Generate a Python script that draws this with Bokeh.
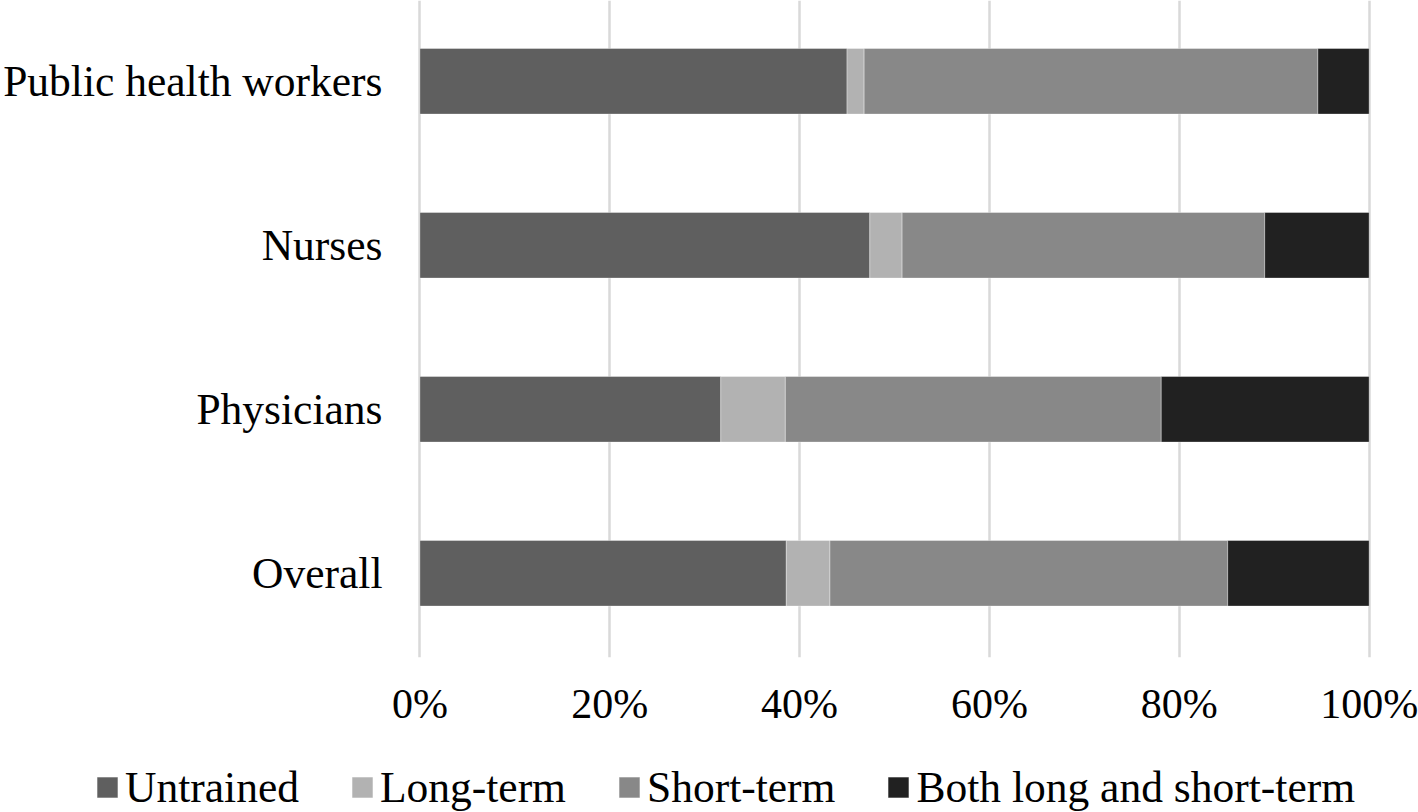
from bokeh.plotting import figure
from bokeh.models import FixedTicker, Legend, ColumnDataSource
from bokeh.layouts import column
from bokeh.embed import file_html
from bokeh.resources import INLINE

categories = ["Public health workers", "Nurses", "Physicians", "Overall"]
untrained = [45.0, 47.4, 31.7, 38.6]
long_term = [1.8, 3.4, 6.8, 4.6]
short_term = [47.8, 38.2, 39.6, 41.9]
both = [5.4, 11.0, 21.9, 14.9]
series_names = ["Untrained", "Long-term", "Short-term", "Both long and short-term"]
x_ticks = [0, 20, 40, 60, 80, 100]
x_tick_labels = ["0%", "20%", "40%", "60%", "80%", "100%"]

colors = ["#5f5f5f", "#b2b2b2", "#888888", "#212121"]
FONT = "Liberation Serif"
stack_keys = ["untrained", "long_term", "short_term", "both"]

ypos = list(range(len(categories) - 1, -1, -1))
src = ColumnDataSource(dict(y=ypos, untrained=untrained, long_term=long_term,
                            short_term=short_term, both=both))

p = figure(width=1418, height=732, output_backend="svg", toolbar_location=None,
           x_range=(-0.25, 100.25), y_range=(-0.5134, 3.4927),
           min_border_left=414, min_border_right=47, min_border_top=0,
           min_border_bottom=75)
p.frame_align = False

p.hbar_stack(stack_keys, y="y", height=0.40, color=colors, source=src,
             line_color="white", line_alpha=0.35, line_width=1)

p.outline_line_color = None
p.ygrid.grid_line_color = None
p.xgrid.grid_line_color = "#d9d9d9"
p.xgrid.grid_line_width = 2.5
p.xgrid.ticker = FixedTicker(ticks=x_ticks)

p.xaxis.ticker = FixedTicker(ticks=x_ticks)
p.xaxis.major_label_overrides = {t: l for t, l in zip(x_ticks, x_tick_labels)}
p.yaxis.ticker = FixedTicker(ticks=ypos)
p.yaxis.major_label_overrides = {y: c for y, c in zip(ypos, categories)}

for ax in (p.xaxis, p.yaxis):
    ax.axis_line_color = None
    ax.major_tick_line_color = None
    ax.minor_tick_line_color = None
    ax.major_tick_out = 0
    ax.major_tick_in = 0
    ax.minor_tick_out = 0
    ax.major_label_text_font = FONT
    ax.major_label_text_color = "#000000"
p.xaxis.major_label_text_font_size = "42px"
p.yaxis.major_label_text_font_size = "43.5px"
p.xaxis.major_label_standoff = 23
p.yaxis.major_label_standoff = 35

# legend strip below the chart (its bars sit outside its visible range)
q = figure(width=1418, height=80, output_backend="svg", toolbar_location=None,
           x_range=(0, 1), y_range=(100, 101),
           min_border_left=0, min_border_right=0, min_border_top=0,
           min_border_bottom=0)
q.frame_align = False
q.axis.visible = False
q.grid.visible = False
q.outline_line_color = None
leg_r = q.hbar_stack(stack_keys, y="y", height=0.4, color=colors, source=src,
                     line_color="white", line_alpha=0.35, line_width=1)

legend = Legend(items=[(n, [r]) for n, r in zip(series_names, leg_r)],
                orientation="horizontal", location=(94, 0),
                glyph_width=26, glyph_height=26, label_standoff=5, spacing=50,
                padding=0, margin=0, border_line_color=None,
                background_fill_alpha=0,
                label_text_font=FONT, label_text_font_size="43.5px",
                label_text_line_height=1.0,
                label_text_color="#000000")
q.add_layout(legend, "center")

open("out.html", "w").write(file_html(column(p, q, spacing=0), INLINE))
